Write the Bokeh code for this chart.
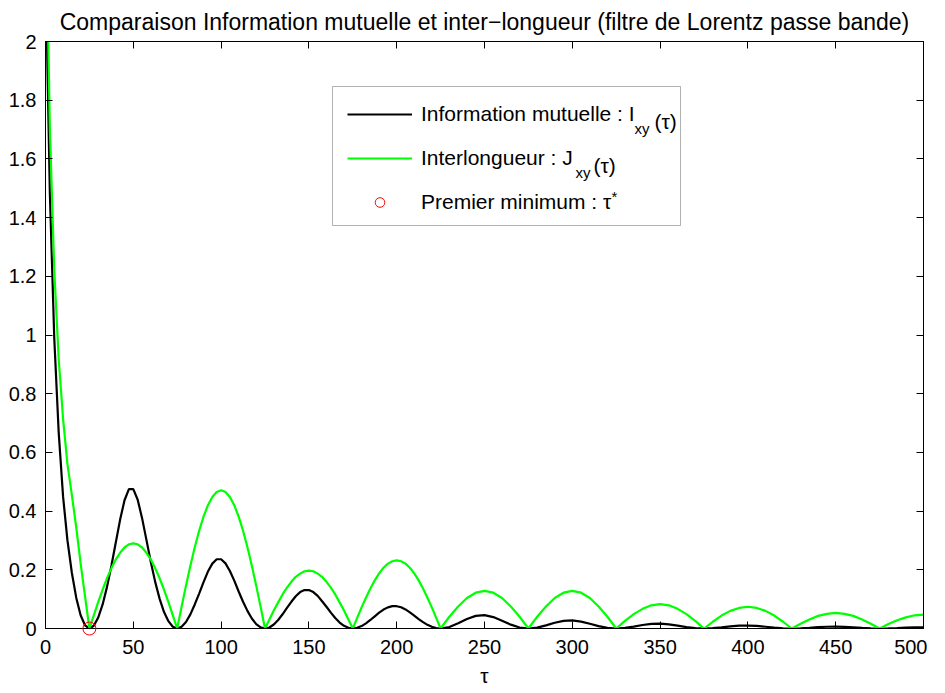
from bokeh.plotting import figure
from bokeh.models import (Range1d, FixedTicker, NumeralTickFormatter, LinearAxis,
                          Legend, LegendItem, Label, BoxAnnotation, CustomLabelingPolicy)
from bokeh.embed import file_html
from bokeh.resources import INLINE

# ---------------- data ----------------
tau = [0, 1, 2.5, 5, 7.5, 10, 12.5, 15, 17.5, 20, 22.5,
       25, 27.5, 30, 32.5, 35, 37.5, 40, 42.5, 45, 47.5,
       50, 52.5, 55, 57.5, 60, 62.5, 65, 67.5, 70, 72.5,
       75, 77.5, 80, 82.5, 85, 87.5, 90, 92.5, 95, 97.5,
       100, 102.5, 105, 107.5, 110, 112.5, 115, 117.5, 120, 122.5,
       125, 127.5, 130, 132.5, 135, 137.5, 140, 142.5, 145, 147.5,
       150, 152.5, 155, 157.5, 160, 162.5, 165, 167.5, 170, 172.5,
       175, 177.5, 180, 182.5, 185, 187.5, 190, 192.5, 195, 197.5,
       200, 202.5, 205, 207.5, 210, 212.5, 215, 217.5, 220, 222.5,
       225, 230, 235, 240, 245, 250, 255, 260, 265, 270,
       275, 280, 285, 290, 295, 300, 305, 310, 315, 320,
       325, 330, 335, 340, 345, 350, 355, 360, 365, 370,
       375, 380, 385, 390, 395, 400, 405, 410, 415, 420,
       425, 430, 435, 440, 445, 450, 455, 460, 465, 470,
       475, 480, 485, 490, 495, 500]

info_mutuelle = [2.5, 1.95, 1.48, 0.988, 0.669, 0.450, 0.300, 0.190, 0.105, 0.045, 0.011,
                 0.0, 0.0094, 0.037, 0.081, 0.141, 0.213, 0.292, 0.371, 0.437, 0.4746,
                 0.475, 0.4386, 0.376, 0.301, 0.226, 0.158, 0.101, 0.056, 0.025, 0.006,
                 0.0, 0.0058, 0.022, 0.048, 0.082, 0.119, 0.158, 0.194, 0.221, 0.236,
                 0.236, 0.222, 0.196, 0.163, 0.126, 0.091, 0.060, 0.034, 0.015, 0.0037,
                 0.0, 0.0035, 0.0136, 0.029, 0.0485, 0.070, 0.091, 0.110, 0.124, 0.131,
                 0.131, 0.124, 0.111, 0.093, 0.074, 0.054, 0.036, 0.0204, 0.009, 0.0023,
                 0.0, 0.0022, 0.0083, 0.0176, 0.029, 0.0416, 0.054, 0.0644, 0.072, 0.0761,
                 0.076, 0.0723, 0.065, 0.0551, 0.044, 0.0323, 0.0216, 0.0124, 0.0056, 0.0014,
                 0.0, 0.0051, 0.0177, 0.0323, 0.043, 0.0454, 0.0389, 0.0265, 0.0131, 0.0034,
                 0.0, 0.0031, 0.0108, 0.0196, 0.026, 0.0274, 0.0235, 0.0161, 0.008, 0.0021,
                 0.0, 0.0019, 0.0066, 0.0119, 0.0157, 0.0166, 0.0143, 0.0098, 0.0049, 0.0013,
                 0.0, 0.0012, 0.004, 0.0073, 0.0096, 0.0101, 0.0087, 0.006, 0.003, 0.0008,
                 0.0, 0.0007, 0.0025, 0.0044, 0.0059, 0.0062, 0.0053, 0.0036, 0.0018, 0.0005,
                 0.0, 0.0004, 0.0015, 0.0027, 0.0036, 0.0038]

interlongueur = [2.5, 2.2, 1.7, 1.22, 0.92, 0.715, 0.56, 0.455, 0.345, 0.222, 0.11,
                 0.0, 0.045, 0.090, 0.132, 0.171, 0.205, 0.235, 0.258, 0.276, 0.287,
                 0.290, 0.287, 0.276, 0.258, 0.235, 0.205, 0.171, 0.132, 0.090, 0.045,
                 0.0, 0.074, 0.146, 0.214, 0.277, 0.333, 0.381, 0.420, 0.448, 0.465,
                 0.471, 0.465, 0.448, 0.420, 0.381, 0.333, 0.277, 0.214, 0.146, 0.074,
                 0.0, 0.031, 0.061, 0.089, 0.116, 0.139, 0.159, 0.176, 0.187, 0.195,
                 0.197, 0.195, 0.187, 0.176, 0.159, 0.139, 0.116, 0.089, 0.061, 0.031,
                 0.0, 0.036, 0.072, 0.105, 0.136, 0.164, 0.188, 0.207, 0.221, 0.229,
                 0.232, 0.229, 0.221, 0.207, 0.188, 0.164, 0.136, 0.105, 0.072, 0.036,
                 0.0, 0.040, 0.075, 0.104, 0.122, 0.128, 0.122, 0.104, 0.075, 0.040,
                 0.0, 0.040, 0.075, 0.104, 0.122, 0.128, 0.122, 0.104, 0.075, 0.040,
                 0.0, 0.026, 0.049, 0.067, 0.079, 0.083, 0.079, 0.067, 0.049, 0.026,
                 0.0, 0.023, 0.044, 0.060, 0.070, 0.074, 0.070, 0.060, 0.044, 0.023,
                 0.0, 0.016, 0.031, 0.043, 0.050, 0.053, 0.050, 0.043, 0.031, 0.016,
                 0.0, 0.015, 0.028, 0.038, 0.045, 0.047]

tau_star = [25]
min_val = [0.0]

x_ticks = [0, 50, 100, 150, 200, 250, 300, 350, 400, 450, 500]
y_ticks = [0, 0.2, 0.4, 0.6, 0.8, 1.0, 1.2, 1.4, 1.6, 1.8, 2.0]

title_text = "Comparaison Information mutuelle et inter\u2212longueur (filtre de Lorentz passe bande)"
FONT = "Liberation Sans"

# ---------------- figure ----------------
p = figure(frame_width=878, frame_height=587,
           x_range=Range1d(0, 500), y_range=Range1d(0, 2),
           output_backend="svg", toolbar_location=None,
           min_border_left=45, min_border_right=4, min_border_top=0, min_border_bottom=0,
           background_fill_color="white", border_fill_color="white")

p.title.text = title_text
p.title.align = "center"
p.title.text_font = FONT
p.title.text_font_size = "23px"
p.title.text_font_style = "normal"
p.title.text_color = "black"
p.title.standoff = 13
p.title.offset = 0

p.xgrid.visible = False
p.ygrid.visible = False
p.outline_line_color = "black"
p.outline_line_width = 1

xt = FixedTicker(ticks=x_ticks)
yt = FixedTicker(ticks=y_ticks)

no_labels = CustomLabelingPolicy(code="""
try { for (const i of Array.from(indices)) { indices.unset(i) } } catch (e) {}
return indices
""")

def style_axis(ax, show_labels=True):
    ax.axis_line_color = "black"
    ax.axis_line_width = 1
    ax.major_tick_in = 7
    ax.major_tick_out = 0
    ax.minor_tick_line_color = None
    ax.major_tick_line_color = "black"
    ax.major_label_text_font = FONT
    ax.major_label_text_color = "black"
    if show_labels:
        ax.major_label_text_font_size = "20px"
    else:
        ax.major_label_text_font_size = "0px"
        ax.major_label_standoff = 0
        ax.major_label_policy = no_labels

p.xaxis.ticker = xt
p.yaxis.ticker = yt
p.yaxis.formatter = NumeralTickFormatter(format="0.[0]")
style_axis(p.xaxis[0])
style_axis(p.yaxis[0])
p.xaxis.major_label_standoff = 11
p.yaxis.major_label_standoff = 9
p.xaxis.axis_label = "\u03c4"
p.xaxis.axis_label_text_font = FONT
p.xaxis.axis_label_text_font_size = "21px"
p.xaxis.axis_label_text_font_style = "normal"
p.xaxis.axis_label_text_color = "black"
p.xaxis.axis_label_standoff = 7

top_ax = LinearAxis(ticker=xt)
right_ax = LinearAxis(ticker=yt)
style_axis(top_ax, show_labels=False)
style_axis(right_ax, show_labels=False)
p.add_layout(top_ax, "above")
p.add_layout(right_ax, "right")

# ---------------- curves ----------------
r_I = p.line(tau, info_mutuelle, line_color="black", line_width=2.2)
r_J = p.line(tau, interlongueur, line_color="#00ff00", line_width=2.2)
r_min = p.scatter(tau_star, min_val, marker="circle", size=13, fill_color=None,
                  line_color="red", line_width=1, level="overlay")

# ---------------- legend ----------------
box = BoxAnnotation(left=287, right=635, bottom=403, top=542,
                    left_units="screen", right_units="screen",
                    bottom_units="screen", top_units="screen",
                    fill_color="white", fill_alpha=1.0,
                    line_color="black", line_width=1)
p.add_layout(box)

legend = Legend(items=[
    LegendItem(label="Information mutuelle : I", renderers=[r_I]),
    LegendItem(label="Interlongueur : J", renderers=[r_J]),
    LegendItem(label="Premier minimum : \u03c4", renderers=[r_min]),
], location=(302, 414), border_line_color=None, background_fill_alpha=0.0,
   label_text_font=FONT, label_text_font_size="21px", label_text_color="black",
   glyph_width=65, glyph_height=24, label_height=24, label_standoff=9,
   spacing=20, padding=10, margin=0)
p.add_layout(legend)

def lab(txt, x, y, size):
    p.add_layout(Label(x=x, y=y, x_units="screen", y_units="screen", text=txt,
                       text_font=FONT, text_font_size=size, text_color="black",
                       text_align="left", text_baseline="alphabetic"))

lab("xy", 589, 500, "15px")
lab("(\u03c4)", 609, 507, "21px")
lab("xy", 530, 456, "15px")
lab("(\u03c4)", 548, 463, "21px")
lab("*", 566, 432, "15px")

open("out.html", "w").write(file_html(p, INLINE))
